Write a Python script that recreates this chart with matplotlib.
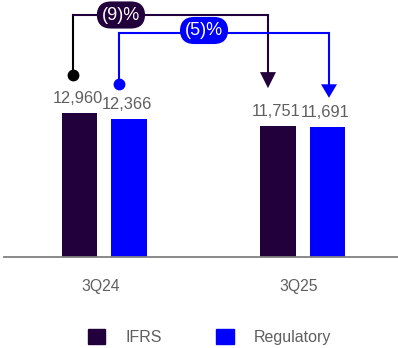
import matplotlib
matplotlib.use("Agg")
import matplotlib.pyplot as plt
from matplotlib.patches import Patch, Polygon
from matplotlib.transforms import IdentityTransform

# ---- data ----
categories = ["3Q24", "3Q25"]
series_names = ["IFRS", "Regulatory"]
ifrs_values = [12960, 11751]
regulatory_values = [12366, 11691]
change_labels = ["(9)%", "(5)%"]

# ---- style ----
C_IFRS = "#21003b"
C_REG = "#0000ff"
GRAY = "#5f5f5f"
FONT = "Liberation Sans"
W, H = 398, 348

plt.rcParams["font.family"] = [FONT, "DejaVu Sans"]

fig = plt.figure(figsize=(W / 100, H / 100), dpi=100)
ax = fig.add_axes([4 / W, (H - 256.7) / H, 394 / W, 256.7 / H])
ax.set_ylim(0, 23100)
ax.set_xlim(-0.505, 1.480)

x = [0, 1]
bw = 0.179
off = 0.1247
series = [(ifrs_values, C_IFRS, -off), (regulatory_values, C_REG, off)]

for vals, col, o in series:
    xs = [xi + o for xi in x]
    ax.bar(xs, vals, width=bw, color=col, zorder=2)
    for xi, v in zip(xs, vals):
        ax.annotate(f"{v:,}", (xi, v), xytext=(-2, 10), textcoords="offset pixels",
                    ha="center", va="baseline", fontsize=11.8, color=GRAY)

for s in ["top", "left", "right"]:
    ax.spines[s].set_visible(False)
ax.spines["bottom"].set_color("#808080")
ax.spines["bottom"].set_linewidth(1.3)
ax.set_yticks([])
ax.set_xticks([xi - 0.02 for xi in x])
ax.set_xticklabels(categories, fontsize=11.3, color=GRAY)
ax.tick_params(axis="x", length=0, pad=16)

# ---- change connectors (display pixel coords, from bar tops) ----
idt = IdentityTransform()
conn = [
    # values, color, start-line color, start dx, start dy, end dx, end dy, level, pill frac, head h, label, pill dy, z
    (ifrs_values, C_IFRS, "black", -off, -6, 38, -10, 38, 15, 0.244, 16, change_labels[0], 0, 3),
    (regulatory_values, C_REG, C_REG, off, -10, 35, 1.5, 29, 33, 0.405, 13.5, change_labels[1], -2.5, 6),
]
for vals, col, scol, o, sdx, sdy, edx, edy, level, frac, hh, lab, pdy, z in conn:
    sx, sy = ax.transData.transform((x[0] + o, vals[0]))
    ex, ey = ax.transData.transform((x[1] + o, vals[1]))
    sx += sdx; sy += sdy
    ex += edx; ey += edy
    ly = H - level
    ax.plot([sx, sx], [sy, ly], color=scol, lw=1.5,
            transform=idt, clip_on=False, zorder=z, solid_capstyle="projecting")
    ax.plot([sx, ex, ex], [ly, ly, ey + hh], color=col, lw=1.5,
            transform=idt, clip_on=False, zorder=z, solid_joinstyle="miter")
    ax.plot([sx], [sy], marker="o", markersize=7.5, color=scol,
            transform=idt, clip_on=False, zorder=z + 1)
    head = Polygon([[ex - 8, ey + hh], [ex + 8, ey + hh], [ex, ey]], closed=True,
                   facecolor=col, edgecolor="none", transform=idt, clip_on=False, zorder=z + 1)
    ax.add_patch(head)
    px = sx + frac * (ex - sx)
    ax.text(px, ly - pdy, lab, transform=idt, ha="center", va="center",
            fontsize=13, color="white", zorder=z + 2,
            bbox=dict(boxstyle="round,pad=0.28,rounding_size=0.8", fc=col, ec="none"))

handles = [Patch(color=C_IFRS), Patch(color=C_REG)]
fig.legend(handles, series_names, loc="center left",
           bbox_to_anchor=(87.7 / W, 1 - 336.7 / H), ncol=2, frameon=False,
           borderpad=0, borderaxespad=0, handlelength=1.1, handleheight=1.1,
           handletextpad=1.25, columnspacing=3.4, fontsize=11.5, labelcolor=GRAY)

fig.savefig("out.png", dpi=100)
